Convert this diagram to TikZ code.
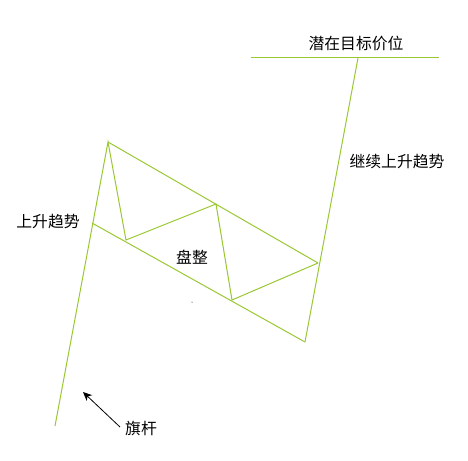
\documentclass[tikz,border=0pt]{standalone}
\usepackage{fontspec}
\newfontfamily\cjk{Noto Sans CJK SC}
\usetikzlibrary{arrows.meta}
\definecolor{flaggreen}{RGB}{154,200,50}
\tikzset{
  trend/.style={draw=flaggreen, line width=1pt, line join=miter},
  lbl/.style={font=\cjk\fontsize{15.8}{17}\selectfont, text=black, inner sep=0pt},
}
\begin{document}
\begin{tikzpicture}[x=1pt,y=-1pt]
\useasboundingbox (0,0) rectangle (468,460);
% key points
\coordinate (poleB) at (55,426);
\coordinate (peak) at (108,142);
\coordinate (v1) at (126,240);
\coordinate (h1) at (216,204);
\coordinate (v2) at (232,300);
\coordinate (h2) at (318,263);
\coordinate (low) at (305,342);
\coordinate (top) at (358,58);
\coordinate (lowS) at (92,223);
\coordinate (tL) at (251,58);
\coordinate (tR) at (439,58);
% flag pole and zigzag
\draw[trend] (poleB) -- (peak) -- (v1) -- (h1) -- (v2) -- (h2);
% channel lines
\draw[trend] (peak) -- (h2);
\draw[trend] (lowS) -- (low);
% breakout
\draw[trend] (low) -- (top);
% target
\draw[trend] (tL) -- (tR);
% labels
\node[lbl] (target) at (356,44) {潜在目标价位};
\node[lbl] (cont) at (397,162) {继续上升趋势};
\node[lbl] (up) at (48,222) {上升趋势};
\node[lbl] (cons) at (192,257) {盘整};
\node[lbl] (pole) at (141,428) {旗杆};
\fill[black] (192,302) circle (0.5);
\coordinate (arrEnd) at (83,392);
\draw[-{Stealth[length=9pt,width=8pt]}, line width=0.8pt] (pole.west) ++(-5,-1) -- (arrEnd);
\end{tikzpicture}
\end{document}
